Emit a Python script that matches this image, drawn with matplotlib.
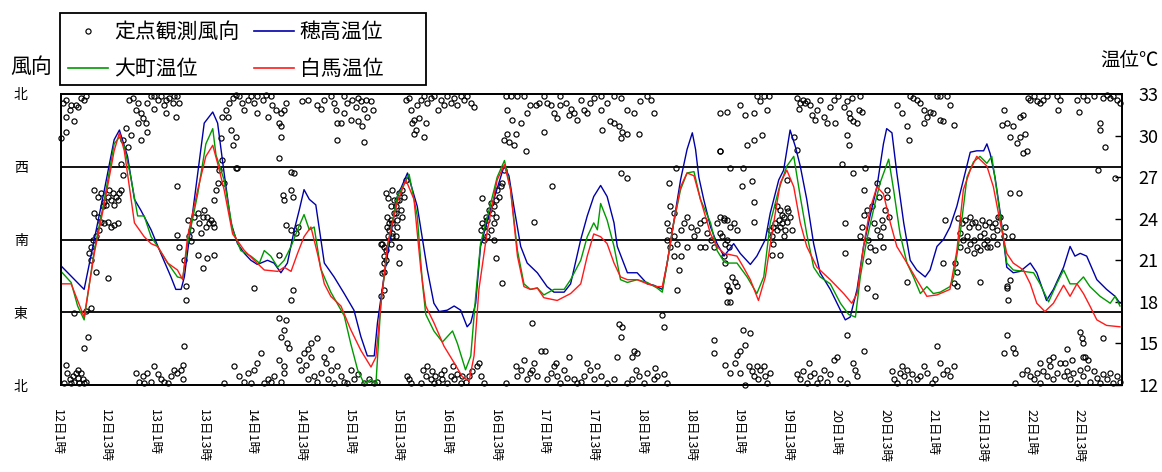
import numpy as np
import matplotlib
matplotlib.use('Agg')
import matplotlib.pyplot as plt
from matplotlib.lines import Line2D
from matplotlib.patches import Rectangle
from matplotlib.transforms import ScaledTranslation

plt.rcParams['font.family'] = ['Noto Sans CJK JP', 'DejaVu Sans']

# x = hours after 12日1時
tick_hours = [0, 12, 24, 36, 48, 60, 72, 84, 96, 108, 120, 132, 144, 156, 168, 180, 192, 204, 216, 228, 240, 252]
tick_labels = ['12日1時', '12日13時', '13日1時', '13日13時', '14日1時', '14日13時',
               '15日1時', '15日13時', '16日1時', '16日13時', '17日1時', '17日13時',
               '18日1時', '18日13時', '19日1時', '19日13時', '20日1時', '20日13時',
               '21日1時', '21日13時', '22日1時', '22日13時']

dir_ticks = [0, 90, 180, 270, 360]
dir_labels = ['北', '東', '南', '西', '北']
temp_ticks = [12, 15, 18, 21, 24, 27, 30, 33]

# 穂高温位 (hour, °C)
hotaka = [(0, 20.6), (5.7, 18.9), (8.2, 22.5), (10.7, 26.1), (13.1, 29.7), (14.4, 30.4), (16.4, 28.5),
          (18.1, 25.4), (19.7, 24.6), (22.2, 23.2), (24.6, 21.5), (27.1, 19.8), (28.3, 18.9), (29.6, 18.9),
          (30.4, 19.8), (33.7, 27.3), (35.3, 30.9), (37.4, 31.7), (38.6, 30.9), (40.2, 27.3), (41.9, 23.7),
          (43.5, 22.2), (45.2, 21.5), (46.8, 21.0), (48.4, 20.7), (50.9, 21.0), (52.5, 20.8), (54.2, 20.1),
          (55.8, 20.8), (57.5, 23.2), (58.7, 24.6), (59.9, 26.1), (61.2, 25.4), (62.8, 25.0), (63.2, 24.2),
          (64.9, 20.8), (67.3, 19.8), (69.8, 18.6), (72.2, 17.4), (73.9, 15.5), (75.5, 14.1), (77.2, 14.1),
          (78.0, 16.5), (79.6, 19.8), (81.3, 22.9), (82.9, 25.6), (85.4, 27.3), (87.8, 24.9), (89.1, 22.5),
          (90.3, 20.3), (91.9, 17.9), (93.2, 17.3), (95.2, 17.4), (96.9, 17.7), (98.5, 17.4), (100.1, 16.2),
          (101.0, 16.5), (102.2, 17.9), (103.4, 22.0), (105.1, 23.9), (107.1, 25.8), (109.2, 27.8),
          (110.4, 27.1), (111.6, 24.9), (113.3, 22.0), (114.9, 20.8), (117.4, 20.1), (119.8, 19.1),
          (121.5, 18.7), (124.0, 18.7), (125.6, 19.3), (128.1, 22.5), (129.7, 24.2), (131.3, 25.6),
          (133.0, 26.4), (134.6, 25.6), (136.3, 23.7), (137.1, 22.0), (139.6, 20.1), (142.0, 20.1),
          (144.5, 19.3), (146.1, 19.2), (148.2, 18.9), (149.4, 20.8), (151.0, 23.7), (152.7, 26.8),
          (154.3, 29.0), (155.6, 30.2), (156.4, 29.0), (157.2, 27.0), (158.4, 25.4), (160.1, 23.4),
          (161.7, 22.2), (163.4, 21.3), (165.8, 22.2), (167.4, 21.5), (169.9, 20.7), (171.5, 21.3),
          (173.6, 22.5), (174.8, 24.4), (176.9, 26.8), (178.1, 27.5), (179.7, 30.4), (181.0, 29.2),
          (182.2, 27.8), (183.8, 25.4), (185.5, 22.2), (187.1, 20.1), (189.6, 18.9), (192.1, 17.4),
          (193.3, 16.7), (194.5, 16.9), (196.2, 18.9), (197.8, 22.0), (199.4, 24.2), (201.1, 26.3),
          (202.7, 29.4), (203.5, 30.5), (204.8, 30.2), (206.0, 27.3), (207.7, 23.7), (209.3, 21.0),
          (210.9, 20.3), (213.0, 19.8), (214.2, 20.3), (215.9, 22.0), (217.5, 22.5), (219.1, 23.4),
          (220.8, 24.9), (222.4, 26.8), (224.1, 28.8), (225.7, 28.9), (227.4, 28.9), (228.2, 29.4),
          (229.0, 28.7), (230.2, 27.0), (231.5, 24.4), (233.1, 20.5), (234.7, 20.1), (236.4, 20.2),
          (238.9, 20.8), (240.5, 20.1), (242.9, 18.1), (244.6, 18.9), (247.1, 20.5), (248.7, 22.0),
          (249.9, 21.3), (251.2, 21.5), (252.8, 21.3), (255.3, 19.6), (257.7, 18.9), (259.8, 18.4),
          (261.0, 17.9)]

# 大町温位
omachi = [(0, 20.2), (2.5, 19.4), (4.1, 17.7), (5.7, 16.7), (8.2, 21.7), (10.7, 25.4), (13.1, 29.4),
          (14.4, 29.9), (15.6, 29.2), (17.2, 27.0), (18.9, 24.2), (20.5, 24.2), (22.2, 22.7), (23.8, 22.0),
          (26.3, 20.8), (28.7, 19.8), (30.0, 19.7), (31.2, 22.2), (33.7, 25.8), (35.7, 29.4), (37.4, 30.5),
          (38.2, 28.6), (40.2, 26.8), (42.3, 23.2), (44.3, 21.7), (46.8, 21.3), (48.9, 20.8), (50.1, 21.7),
          (51.7, 21.3), (53.4, 20.5), (55.0, 21.0), (56.7, 22.0), (58.3, 23.2), (59.9, 24.3), (61.2, 23.2),
          (62.4, 23.4), (64.0, 20.4), (66.5, 18.7), (69.8, 17.0), (71.4, 15.0), (73.1, 13.1), (74.7, 12.1),
          (76.4, 12.4), (77.6, 12.0), (78.8, 17.7), (80.5, 22.0), (82.9, 25.6), (85.8, 27.2), (87.8, 24.2),
          (89.1, 19.3), (89.9, 17.1), (91.9, 15.9), (94.0, 15.1), (96.5, 15.9), (97.7, 15.0), (99.7, 13.1),
          (101.0, 14.1), (102.2, 18.4), (103.4, 22.2), (105.9, 25.1), (107.5, 27.0), (109.3, 28.2),
          (110.8, 26.1), (112.5, 21.7), (114.1, 19.3), (115.7, 18.9), (117.4, 19.0), (119.0, 18.5),
          (121.5, 18.9), (124.0, 18.9), (125.6, 19.6), (128.1, 21.0), (129.7, 22.7), (131.3, 23.7),
          (132.2, 23.2), (133.0, 25.1), (134.6, 23.9), (136.3, 22.0), (137.9, 19.6), (139.6, 19.4),
          (142.0, 19.6), (144.5, 19.4), (146.9, 19.0), (148.2, 18.7), (149.4, 20.8), (151.0, 23.7),
          (152.7, 26.1), (154.3, 27.3), (156.0, 27.4), (157.6, 25.4), (160.1, 23.7), (161.7, 21.7),
          (163.4, 20.9), (164.1, 20.8), (166.6, 20.8), (169.1, 19.8), (171.5, 18.6), (173.2, 19.8),
          (174.8, 23.7), (176.9, 26.1), (178.9, 27.8), (180.6, 28.5), (182.2, 25.6), (183.8, 22.9),
          (185.5, 20.5), (187.1, 19.8), (189.6, 19.3), (192.1, 17.9), (194.1, 17.1), (195.8, 16.9),
          (197.0, 19.8), (198.6, 22.5), (200.3, 24.7), (201.9, 26.6), (204.0, 28.3), (205.2, 26.1),
          (206.8, 22.9), (208.5, 20.8), (210.1, 19.8), (211.8, 18.6), (213.4, 19.1), (215.0, 18.6),
          (216.7, 18.7), (219.1, 19.1), (220.0, 19.8), (221.6, 22.9), (223.3, 27.0), (224.9, 28.1),
          (226.5, 28.5), (228.2, 28.0), (229.4, 28.5), (230.6, 26.1), (232.3, 22.5), (233.1, 20.8),
          (234.7, 20.3), (237.2, 20.2), (239.7, 20.1), (241.3, 19.3), (243.4, 18.0), (245.4, 19.3),
          (247.1, 20.3), (248.7, 19.3), (250.4, 19.3), (252.0, 19.8), (253.6, 19.1), (256.1, 18.4),
          (258.6, 17.9), (259.8, 18.4), (261.0, 17.7)]

# 白馬温位
hakuba = [(0, 19.3), (2.5, 19.3), (4.1, 18.1), (5.7, 16.9), (8.2, 21.5), (10.7, 25.1), (13.1, 28.9),
          (14.4, 30.2), (15.6, 28.9), (18.1, 23.7), (20.5, 22.7), (22.2, 22.2), (23.8, 22.0), (26.3, 20.8),
          (28.7, 20.3), (30.0, 19.6), (31.2, 22.7), (33.7, 26.1), (35.7, 28.5), (37.4, 29.3), (38.6, 28.0),
          (40.2, 26.1), (42.3, 22.9), (45.2, 21.7), (47.6, 21.0), (50.1, 20.3), (53.4, 20.2), (55.0, 20.5),
          (56.7, 20.2), (58.3, 21.5), (59.9, 22.7), (61.6, 23.4), (63.2, 21.5), (64.9, 19.3), (66.5, 18.4),
          (69.0, 17.7), (71.4, 16.0), (73.9, 14.5), (76.4, 13.3), (77.6, 14.0), (78.8, 17.7), (80.5, 22.2),
          (82.9, 25.2), (85.0, 26.8), (87.0, 25.4), (88.7, 20.3), (89.9, 17.7), (91.9, 16.5), (94.4, 14.8),
          (96.9, 13.6), (98.9, 12.6), (100.6, 12.3), (101.8, 14.1), (103.0, 18.9), (105.1, 23.2),
          (107.5, 26.8), (109.3, 27.9), (110.8, 26.1), (112.5, 21.3), (114.1, 19.1), (115.7, 18.9),
          (117.4, 19.0), (119.0, 18.3), (122.3, 18.1), (125.6, 18.6), (128.1, 19.3), (129.7, 21.3),
          (131.3, 22.9), (133.0, 22.7), (134.6, 22.2), (136.3, 20.8), (137.9, 19.8), (139.6, 19.6),
          (142.0, 19.6), (144.5, 19.3), (146.9, 19.1), (148.2, 19.1), (149.4, 20.8), (151.0, 23.7),
          (152.7, 26.3), (154.3, 27.3), (156.0, 27.1), (157.6, 25.4), (160.1, 22.9), (161.7, 22.0),
          (163.4, 21.5), (166.6, 21.3), (168.2, 20.5), (169.9, 19.6), (171.9, 18.1), (173.6, 19.8),
          (175.2, 22.9), (177.3, 26.6), (178.9, 27.5), (180.6, 26.3), (182.2, 23.7), (183.8, 22.0),
          (186.3, 20.5), (189.6, 19.6), (192.9, 18.6), (194.9, 17.9), (196.2, 18.6), (197.8, 22.0),
          (199.4, 24.7), (201.1, 26.3), (202.7, 25.8), (204.4, 23.7), (206.0, 22.0), (208.5, 20.8),
          (210.9, 19.6), (213.4, 18.4), (215.9, 18.5), (219.1, 18.9), (220.8, 21.7), (222.4, 26.1),
          (224.1, 27.5), (225.7, 28.5), (228.2, 27.8), (229.8, 26.3), (231.5, 23.7), (233.1, 21.5),
          (234.7, 20.8), (237.2, 20.3), (238.9, 19.3), (240.5, 17.9), (242.5, 17.3), (244.6, 17.9),
          (247.1, 19.2), (248.7, 18.4), (250.4, 19.3), (252.0, 18.6), (253.6, 17.7), (255.3, 16.7),
          (257.7, 16.3), (261.0, 16.2)]

# 定点観測風向 (hour, degrees; 0/360 = 北, 90 = 東, 180 = 南, 270 = 西)
wind_12_15 = [
    (0.4, 349), (1.2, 353), (2.1, 340), (2.5, 346), (3.7, 346), (4.9, 355), (5.7, 353), (6.2, 357), (4.1, 344),
    (1.2, 332), (3.3, 326), (1.2, 313), (0, 305),
    (16.8, 353), (17.7, 355), (18.5, 340), (18.9, 349), (19.7, 336), (20.1, 330), (20.9, 324), (21.3, 313),
    (22.2, 357), (23.0, 357), (23.8, 353), (24.6, 357), (25.5, 346), (25.9, 353), (26.7, 355), (27.5, 349),
    (27.9, 357), (28.7, 357), (29.1, 349), (28.3, 332), (25.9, 336), (23.0, 342), (21.3, 349), (18.9, 324),
    (19.7, 303), (17.2, 309), (16.4, 295), (15.2, 303), (16.0, 318),
    (39.8, 332), (40.6, 340), (41.5, 349), (42.3, 355), (43.1, 359), (43.9, 357), (44.7, 349), (46.0, 353),
    (46.8, 357), (47.6, 349), (48.4, 357), (49.7, 353), (50.5, 359), (51.7, 357), (52.1, 346), (53.0, 340),
    (54.2, 336), (55.0, 340), (55.4, 349), (41.9, 316), (42.3, 297), (43.1, 307), (53.8, 324), (54.2, 320),
    (54.2, 307), (53.8, 281), (56.7, 264), (57.5, 262), (43.1, 268), (41.1, 332), (45.2, 340), (48.4, 336),
    (50.9, 332),
    (59.5, 351), (60.8, 353), (63.2, 346), (64.0, 342), (64.9, 353), (66.5, 357), (67.3, 349), (67.7, 340),
    (68.1, 324), (69.0, 324), (69.8, 336), (70.6, 349), (71.8, 353), (72.7, 344), (73.1, 355), (73.9, 351),
    (74.7, 342), (75.5, 332), (76.4, 351), (76.8, 340), (74.3, 320), (73.1, 326), (68.1, 303), (74.7, 301),
    (71.4, 328), (69.8, 357), (75.1, 353),
    (7.4, 171), (8.2, 241), (9.0, 208), (9.0, 233), (9.4, 192), (9.9, 237), (9.9, 202), (10.3, 221),
    (10.7, 227), (10.7, 200), (11.1, 223), (11.5, 233), (11.5, 202), (11.9, 241), (12.3, 196), (12.3, 229),
    (12.7, 237), (13.1, 198), (13.1, 223), (13.5, 233), (14.0, 200), (14.0, 229), (14.4, 237), (14.8, 241),
    (14.8, 274), (15.2, 260), (7.8, 180), (8.6, 184), (8.2, 213), (7.0, 163), (7.4, 155), (8.6, 140),
    (11.5, 132), (6.2, 91), (5.7, 46), (6.6, 60), (7.4, 95), (3.3, 89),
    (31.2, 204), (31.6, 184), (32.0, 192), (32.8, 208), (33.7, 213), (34.1, 200), (34.5, 188), (34.9, 208),
    (35.3, 217), (35.7, 196), (36.1, 208), (36.5, 200), (36.9, 204), (37.4, 200), (37.8, 196), (37.8, 161),
    (36.1, 157), (34.9, 145), (33.7, 161), (32.0, 178), (28.7, 246), (28.7, 186), (29.1, 171), (30.4, 155),
    (30.8, 122), (30.8, 105), (30.4, 48), (37.8, 229), (38.2, 241), (38.6, 250), (39.0, 266), (39.8, 278),
    (40.2, 250), (39.4, 305),
    (43.5, 268), (47.6, 120), (53.8, 83), (54.2, 60), (55.0, 68), (55.4, 81), (55.8, 52), (56.2, 46),
    (56.7, 105), (57.1, 118), (57.1, 233), (54.6, 235), (55.0, 229), (56.7, 241), (55.4, 198), (58.3, 196),
    (57.9, 188), (53.8, 161), (56.7, 192), (49.3, 40),
    (79.6, 171), (80.0, 155), (80.5, 184), (80.9, 200), (81.3, 204), (81.7, 188), (82.1, 213), (82.5, 221),
    (82.9, 229), (83.3, 237), (79.6, 140), (79.6, 118), (78.8, 175), (80.5, 231), (81.7, 241), (82.9, 196),
    (83.3, 151), (78.8, 110),
    (1.2, 25), (1.6, 15), (2.1, 7), (2.5, 2), (2.9, 11), (3.3, 4), (3.7, 15), (4.1, 9), (4.5, 2), (4.9, 15),
    (5.3, 7), (5.7, 2), (6.2, 4), (4.1, 19), (0.8, 2),
    (18.5, 15), (19.3, 4), (20.1, 11), (20.5, 2), (21.3, 15), (22.2, 4), (23.0, 23), (23.8, 13), (24.6, 7),
    (25.5, 4), (26.3, 2), (27.1, 11), (27.9, 19), (28.7, 15), (29.6, 19), (30.0, 25), (30.0, 7),
    (40.2, 2), (42.7, 23), (43.9, 11), (45.2, 4), (46.0, 15), (46.8, 2), (47.6, 19), (48.4, 27), (50.1, 2),
    (50.9, 7), (51.7, 4), (52.5, 11), (54.2, 4),
    (58.7, 31), (59.1, 19), (59.9, 40), (60.3, 25), (60.8, 7), (61.6, 35), (62.4, 11), (63.2, 4), (64.0, 15),
    (64.9, 35), (65.3, 27), (65.7, 7), (66.5, 19), (67.3, 2), (68.1, 23), (69.0, 11), (69.8, 4), (70.6, 2),
    (71.4, 19), (72.2, 7), (73.1, 13), (74.7, 2), (75.9, 7), (77.2, 2), (78.0, 4), (55.0, 23), (53.8, 31),
    (55.0, 15), (61.6, 52), (60.8, 44), (63.2, 58), (66.5, 44),
]

wind_15_19 = [
    (85.0, 353), (85.8, 355), (86.2, 340), (87.0, 328), (87.8, 346), (88.7, 353), (89.5, 357), (90.3, 349),
    (91.1, 355), (91.9, 357), (92.8, 340), (93.6, 353), (94.4, 346), (95.2, 357), (96.0, 349), (96.9, 355),
    (97.7, 346), (98.5, 357), (99.3, 353), (100.1, 357), (101.0, 349), (101.8, 344), (86.6, 324), (87.4, 316),
    (87.0, 311), (89.5, 307), (89.9, 324), (88.2, 330),
    (109.6, 357), (110.8, 357), (112.5, 357), (114.1, 357), (110.0, 340), (111.2, 328), (112.1, 311),
    (110.0, 311), (109.2, 303), (110.4, 301), (111.6, 297), (114.5, 289), (113.3, 324), (115.7, 346),
    (117.0, 346), (117.8, 349), (119.0, 357), (119.8, 349), (120.7, 346), (121.5, 336), (122.3, 330),
    (123.1, 346), (124.4, 349), (125.6, 342), (126.4, 336), (127.2, 328), (128.9, 340), (130.5, 349),
    (131.3, 355), (133.0, 357), (134.6, 349), (136.3, 357), (137.9, 355), (139.6, 340), (141.2, 336),
    (142.8, 351), (144.5, 357), (145.3, 353), (146.1, 336), (135.4, 326), (136.3, 324), (137.5, 320),
    (138.3, 313), (139.6, 311), (142.4, 311), (137.9, 305), (133.4, 316), (133.0, 340), (128.1, 353),
    (129.7, 336), (125.2, 334), (123.1, 357), (162.5, 336), (119.0, 313), (114.9, 336),
    (79.2, 175), (79.6, 151), (80.0, 237), (80.4, 208), (80.9, 192), (81.3, 221), (81.7, 200), (82.1, 229),
    (82.5, 213), (82.9, 204), (83.3, 229), (83.7, 217), (84.1, 241), (84.5, 233), (85.0, 254), (79.2, 138),
    (80.0, 167), (81.3, 175), (82.5, 184), (83.3, 171), (84.1, 208), (80.4, 196), (81.7, 184), (79.5, 159),
    (103.4, 192), (103.8, 200), (104.2, 196), (104.7, 208), (105.1, 204), (105.5, 217), (105.9, 225),
    (106.3, 213), (106.7, 221), (107.1, 229), (107.5, 241), (108.0, 233), (108.4, 246), (108.8, 250),
    (107.1, 208), (106.7, 200), (105.9, 192), (105.1, 184), (106.7, 180), (107.1, 157), (104.2, 180),
    (103.8, 231), (108.8, 126), (109.2, 266),
    (116.6, 202), (121.1, 246), (137.9, 262), (139.6, 256), (162.5, 289), (151.5, 268), (149.8, 250),
    (150.2, 221), (151.0, 213), (149.4, 200), (149.8, 192), (151.0, 184), (151.9, 175), (152.7, 192),
    (153.5, 200), (154.3, 208), (155.2, 196), (156.0, 184), (156.8, 192), (157.6, 200), (158.4, 204),
    (159.3, 188), (160.1, 180), (160.9, 171), (161.7, 200), (162.5, 188), (163.4, 204), (164.2, 180),
    (152.7, 159), (154.3, 171), (151.0, 159), (152.3, 142), (151.9, 118), (157.6, 171), (158.8, 171),
    (163.4, 159), (164.6, 118), (164.2, 103), (149.4, 180), (150.2, 171), (148.2, 87), (148.6, 72),
    (116.2, 77), (137.5, 75), (137.9, 60), (138.3, 72), (137.1, 35), (141.2, 42), (140.8, 35), (142.0, 40),
    (160.9, 56), (160.9, 40),
    (85.4, 11), (85.8, 7), (86.2, 2), (88.7, 2), (89.1, 19), (89.9, 11), (90.3, 23), (91.1, 7), (91.5, 17),
    (91.9, 2), (92.3, 11), (92.8, 4), (93.6, 13), (94.0, 7), (94.4, 19), (95.2, 2), (96.0, 11), (96.5, 23),
    (96.9, 7), (97.7, 13), (98.5, 2), (98.9, 11), (99.7, 4), (100.6, 11), (101.4, 17), (102.6, 23),
    (103.0, 27), (103.4, 11), (104.2, 2), (109.6, 2), (112.1, 23), (112.5, 11), (113.3, 19), (114.1, 31),
    (114.9, 7), (115.7, 15), (116.6, 27), (117.4, 11), (118.2, 42), (119.4, 42), (119.8, 7), (120.7, 15),
    (121.5, 23), (121.9, 27), (122.3, 11), (123.1, 2), (124.0, 19), (124.8, 9), (125.2, 35), (126.4, 7),
    (127.2, 2), (128.1, 4), (128.9, 11), (129.7, 27), (130.5, 19), (131.3, 7), (132.2, 23), (133.0, 11),
    (134.6, 2), (136.3, 7), (139.6, 2), (140.8, 7), (141.6, 19), (142.4, 11), (143.7, 2), (144.5, 15),
    (146.1, 7), (146.5, 21), (146.9, 11), (148.6, 13), (149.4, 2), (116.2, 19),
]

wind_19_22 = [
    (164.1, 338), (167.4, 346), (168.7, 334), (170.7, 336), (169.1, 297), (170.7, 303), (172.8, 309),
    (171.5, 357), (172.4, 351), (173.2, 357), (174.4, 357), (174.0, 340), (181.4, 355), (182.2, 349),
    (183.0, 353), (183.8, 351), (184.7, 346), (185.1, 334), (185.9, 328), (186.3, 340), (187.1, 353),
    (188.0, 332), (188.8, 324), (189.6, 344), (190.4, 353), (190.8, 324), (191.6, 357), (192.9, 344),
    (194.1, 336), (194.5, 330), (195.3, 326), (196.2, 324), (196.6, 340), (197.4, 338), (194.9, 355),
    (193.7, 351), (197.0, 357), (181.8, 342), (183.4, 349), (193.7, 309), (194.1, 297), (206.0, 346),
    (207.2, 336), (208.5, 320), (208.9, 303), (209.3, 357), (210.1, 355), (210.9, 353), (211.8, 349),
    (212.6, 340), (213.4, 332), (214.2, 338), (215.0, 336), (215.9, 357), (216.7, 328), (217.5, 326),
    (218.3, 357), (219.1, 346), (220.0, 322), (216.7, 357), (212.6, 324), (232.3, 340), (233.1, 324),
    (233.9, 307), (234.7, 320), (235.6, 299), (236.4, 332), (237.2, 334), (237.6, 311), (238.0, 289),
    (238.4, 355), (238.9, 353), (239.7, 357), (240.5, 351), (241.3, 349), (242.1, 353), (243.0, 357),
    (245.4, 357), (245.8, 340), (246.2, 353), (250.4, 353), (250.8, 338), (252.0, 357), (252.8, 353),
    (256.1, 324), (256.1, 316), (257.3, 295), (257.7, 359), (258.6, 355), (259.4, 357), (260.2, 353),
    (261.0, 349), (256.9, 355), (254.5, 357), (231.9, 322), (236.4, 307), (237.2, 287),
    (174.8, 192), (175.2, 184), (175.6, 196), (176.0, 200), (176.5, 192), (176.9, 204), (177.3, 196),
    (177.7, 200), (178.1, 208), (178.5, 192), (178.9, 202), (179.3, 215), (179.7, 208), (180.2, 192),
    (177.3, 217), (178.1, 184), (175.6, 175), (175.2, 161), (177.3, 161), (176.5, 221), (178.9, 219),
    (177.7, 210),
    (162.5, 208), (163.3, 206), (164.1, 204), (165.0, 196), (165.8, 200), (166.6, 192), (162.9, 184),
    (163.7, 175), (164.6, 171), (165.4, 134), (166.2, 128), (166.6, 122), (164.6, 116), (165.0, 103),
    (164.1, 124), (163.7, 151), (162.5, 289), (165.0, 268), (168.2, 268), (167.8, 246), (170.3, 252),
    (170.7, 202), (170.7, 227), (180.6, 307), (181.4, 291), (178.9, 254), (193.3, 163), (193.3, 200),
    (192.5, 274), (195.3, 262), (198.2, 268), (197.8, 241), (197.4, 196), (197.0, 184), (199.0, 180),
    (199.4, 171), (200.3, 200), (201.1, 192), (200.7, 167), (201.9, 184), (202.3, 204), (202.7, 196),
    (203.1, 217), (203.5, 233), (204.0, 208), (201.5, 233), (201.1, 250), (199.9, 221), (198.6, 217),
    (197.8, 210), (202.7, 171), (199.0, 153), (198.6, 120), (200.7, 110), (203.5, 241), (220.4, 151),
    (220.8, 140), (220.8, 122), (220.0, 126), (217.9, 204), (217.5, 151), (208.5, 128), (226.5, 128),
    (233.1, 122), (233.9, 130), (233.5, 105), (233.9, 237), (236.0, 237), (231.5, 208), (232.7, 196),
    (232.3, 184), (234.3, 184), (233.1, 120),
    (221.2, 206), (222.0, 200), (222.8, 204), (223.7, 196), (224.5, 200), (225.3, 202), (226.1, 196),
    (227.0, 204), (227.8, 198), (228.6, 202), (229.4, 196), (230.2, 200), (231.0, 208), (221.6, 188),
    (222.4, 180), (223.3, 184), (224.1, 175), (224.9, 180), (225.7, 171), (226.5, 184), (227.4, 175),
    (228.2, 180), (229.0, 171), (229.8, 184), (230.6, 175), (223.3, 167), (224.9, 163), (226.5, 167),
    (228.2, 171), (221.6, 171), (230.6, 192), (224.1, 208), (227.4, 188),
    (255.7, 266), (259.8, 256), (251.2, 66), (251.6, 58), (252.0, 52), (256.9, 58), (233.1, 62), (234.7, 46),
    (235.2, 40), (232.3, 40), (168.2, 68), (169.9, 64), (168.7, 50), (167.4, 42), (166.6, 37), (166.2, 27),
    (163.7, 25), (193.7, 62), (197.8, 42), (215.9, 48), (252.4, 35), (247.9, 44),
    (165.0, 15), (167.4, 15), (168.7, 0), (169.5, 23), (170.3, 17), (170.7, 11), (171.5, 23), (171.9, 7),
    (172.4, 19), (173.2, 23), (173.6, 11), (174.0, 2), (174.8, 15), (181.4, 13), (182.2, 7), (183.0, 17),
    (183.8, 2), (184.3, 27), (184.7, 11), (185.5, 15), (186.3, 2), (187.1, 9), (188.0, 19), (188.8, 4),
    (189.6, 13), (190.4, 31), (191.2, 35), (192.1, 7), (193.7, 2), (195.3, 27), (195.8, 19), (196.2, 11),
    (204.8, 17), (205.2, 7), (206.0, 2), (206.8, 15), (207.2, 23), (207.7, 11), (208.5, 19), (208.9, 4),
    (209.7, 13), (210.9, 7), (211.8, 11), (212.6, 23), (213.4, 15), (214.6, 2), (215.5, 7), (216.7, 27),
    (217.5, 13), (218.3, 19), (219.1, 11), (220.0, 23), (235.2, 2), (236.8, 13), (238.0, 19), (238.9, 11),
    (239.7, 7), (240.5, 15), (241.3, 2), (242.1, 17), (243.0, 11), (243.8, 23), (244.6, 7), (245.4, 15),
    (246.2, 27), (247.1, 11), (247.9, 17), (248.7, 7), (249.5, 15), (250.4, 2), (251.2, 19), (252.0, 11),
    (252.8, 21), (253.6, 4), (254.5, 17), (255.3, 9), (256.1, 2), (256.9, 13), (257.7, 7), (258.6, 15),
    (259.4, 2), (260.2, 11), (261.0, 4), (243.4, 31), (244.6, 35), (247.5, 27), (249.1, 31), (252.0, 35),
    (253.2, 31), (241.3, 27),
]

blue = '#0000a8'
green = '#009a00'
red = '#ff1a1a'

W, H = 1162, 472
fig = plt.figure(figsize=(W / 100, H / 100), dpi=100)
ax = fig.add_axes([61 / W, 1 - 385 / H, (1122 - 61) / W, (385 - 94) / H])
ax.set_xlim(0, 261.5)
ax.set_ylim(0, 360)

wind = np.array(wind_12_15 + wind_15_19 + wind_19_22)
ax.plot(wind[:, 0], wind[:, 1], ls='none', marker='o', mfc='none', mec='black',
        ms=3.7, mew=0.85, clip_on=False, zorder=2)

for d in [90, 180, 270]:
    ax.axhline(d, color='black', lw=1.3, zorder=1)

ax.set_yticks(dir_ticks)
ax.set_yticklabels(dir_labels, fontsize=10)
ax.tick_params(axis='y', length=0, pad=24)
ax.set_xticks(tick_hours)
ax.set_xticklabels(tick_labels, rotation=270, fontsize=9)
ax.tick_params(axis='x', length=0, pad=17)
shift = ScaledTranslation(-4 / 100, 0, fig.dpi_scale_trans)
for lbl in ax.get_xticklabels():
    lbl.set_transform(lbl.get_transform() + shift)

ax2 = ax.twinx()
ax2.set_ylim(12, 33)
for data, col in [(hotaka, blue), (omachi, green), (hakuba, red)]:
    arr = np.array(data)
    ax2.plot(arr[:, 0], arr[:, 1], color=col, lw=1.0)
ax2.set_yticks(temp_ticks)
ax2.tick_params(axis='y', direction='in', length=5, width=1, pad=12, labelsize=13)

for a in (ax, ax2):
    for s in a.spines.values():
        s.set_linewidth(1.3)
        s.set_color('black')

handles = [Line2D([], [], ls='none', marker='o', mfc='none', mec='black', ms=3.7, mew=0.85),
           Line2D([], [], color=green, lw=1.2),
           Line2D([], [], color=blue, lw=1.2),
           Line2D([], [], color=red, lw=1.2)]
labels = ['定点観測風向', '大町温位', '穂高温位', '白馬温位']
fig.legend(handles, labels, ncol=2, loc='upper left', bbox_to_anchor=(60 / W, 1 - 13 / H),
           frameon=False, fontsize=15, borderpad=0.4, labelspacing=0.7, handlelength=1.9,
           handletextpad=0.3, columnspacing=0.7, borderaxespad=0)
fig.add_artist(Rectangle((60 / W, 1 - 85 / H), 366 / W, 72 / H, transform=fig.transFigure,
                         fill=False, ec='black', lw=1.3))

fig.text(31 / W, 1 - 67 / H, '風向', ha='center', va='center', fontsize=15)
fig.text(1129 / W, 1 - 61 / H, '温位℃', ha='center', va='center', fontsize=14)

fig.savefig('out.png', dpi=100)
